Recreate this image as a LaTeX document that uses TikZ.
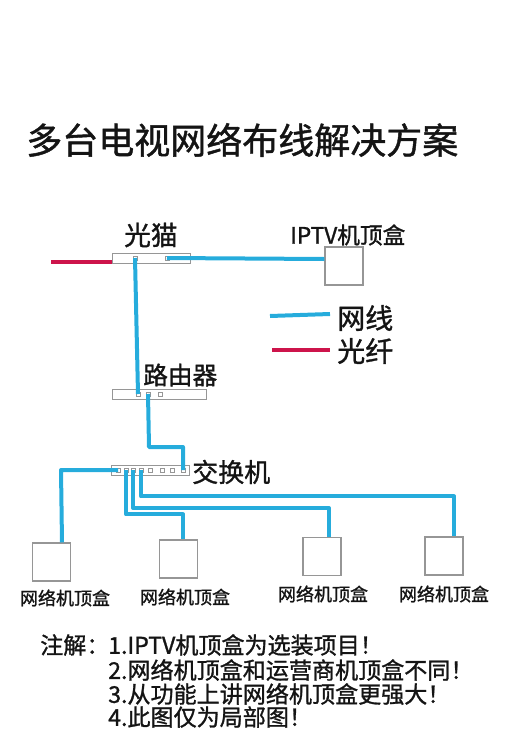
\documentclass[tikz,border=0pt]{standalone}
\usepackage{fontspec}
\setmainfont[FakeBold=1.2]{Noto Sans CJK SC}
\usetikzlibrary{calc}
\definecolor{ink}{RGB}{20,20,20}
\definecolor{edge}{RGB}{150,150,150}
\definecolor{lan}{RGB}{38,172,220}
\definecolor{fibre}{RGB}{205,20,75}
\tikzset{
  lbl/.style={inner sep=0pt,text=ink,font=\fontsize{#1}{#1}\selectfont},
  strip/.style={draw=edge,fill=white,inner sep=0pt,line width=.7pt},
  port/.style={draw=edge,fill=white,inner sep=0pt,minimum size=3.2pt,line width=.5pt},
  stb/.style={draw=edge,fill=white,inner sep=0pt,minimum size=28.5pt,line width=.8pt},
  lanw/.style={draw=lan,line width=3pt,line join=round},
  fibw/.style={draw=fibre,line width=2.7pt},
}
\begin{document}
\begin{tikzpicture}[x=.75pt,y=-.75pt]
\useasboundingbox (0,0) rectangle (513,729);
\node[lbl=27,anchor=west] (title) at (26,140) {多台电视网络布线解决方案};
% devices
\node[strip,minimum width=58.5pt,minimum height=7.5pt] (modem) at (151.5,258) {};
\node[strip,minimum width=71pt,minimum height=7.5pt] (router) at (159.5,394) {};
\node[strip,minimum width=58pt,minimum height=7pt] (switch) at (150.5,470.5) {};
\node[port] (m1) at (135,258) {};
\node[port] (m2) at (167,258) {};
\foreach \i/\x in {1/138,2/148,3/160}
  \node[port] (r\i) at (\x,394) {};
\foreach \i/\x in {1/118,2/126,3/133,4/141,5/150,6/162,7/172,8/183}
  \node[port] (s\i) at (\x,470) {};
\node[stb] (iptv) at (344,266) {};
\node[stb] (stba) at (51.5,562) {};
\node[stb] (stbb) at (178.5,559) {};
\node[stb] (stbc) at (322,556.5) {};
\node[stb] (stbd) at (444,556) {};
% labels
\node[lbl=20,anchor=west] (lmodem) at (124,235) {光猫};
\node[lbl=17,anchor=west] (liptv) at (290,235) {IPTV机顶盒};
\node[lbl=21,anchor=west] (llan) at (337,318) {网线};
\node[lbl=21,anchor=west] (lfibre) at (337,351) {光纤};
\node[lbl=18.5,anchor=west] (lrouter) at (143,375) {路由器};
\node[lbl=19.5,anchor=west] (lswitch) at (192,472) {交换机};
\node[lbl=13.5] (la) at (65,598) {网络机顶盒};
\node[lbl=13.5] (lb) at (185,597) {网络机顶盒};
\node[lbl=13.5] (lc) at (323,594) {网络机顶盒};
\node[lbl=13.5] (ld) at (444,594) {网络机顶盒};
% wires
\coordinate (fibin) at (51,262);
\draw[fibw] (fibin) -- (fibin -| modem.west);
\draw[lanw] (m2.center) -- ($(iptv.west)+(0,-7)$);
\draw[lanw] (m1.center) -- (r1.center);
\draw[lanw] (r2.center) -- ++(1,53) -| (s8.center);
\draw[lanw] (s1.center) -- ++(-57,0) -- ($(stba.north)+(10.5,0)$);
\draw[lanw] (s2.center) |- ($(stbb.north)+(4.5,-25)$) -- ($(stbb.north)+(4.5,0)$);
\draw[lanw] (s3.center) |- ($(stbc.north)+(7,-29)$) -- ($(stbc.north)+(7,0)$);
\draw[lanw] (s4.center) |- ($(stbd.north)+(10,-40)$) -- ($(stbd.north)+(10,0)$);
% legend
\coordinate (keya) at (270,316);
\coordinate (keyb) at (330,314);
\coordinate (keyc) at (272,350);
\coordinate (keyd) at (330,350);
\draw[lanw] (keya) -- (keyb);
\draw[fibw] (keyc) -- (keyd);
% notes
\node[lbl=17.3,anchor=west] (nhead) at (40,645) {注解：};
\node[lbl=17.3,anchor=west] (na) at (108,645) {1.IPTV机顶盒为选装项目！};
\node[lbl=17.3,anchor=west] (nb) at (108,670) {2.网络机顶盒和运营商机顶盒不同！};
\node[lbl=17.3,anchor=west] (nc) at (108,694) {3.从功能上讲网络机顶盒更强大！};
\node[lbl=17.3,anchor=west] (nd) at (108,717) {4.此图仅为局部图！};
\end{tikzpicture}
\end{document}
